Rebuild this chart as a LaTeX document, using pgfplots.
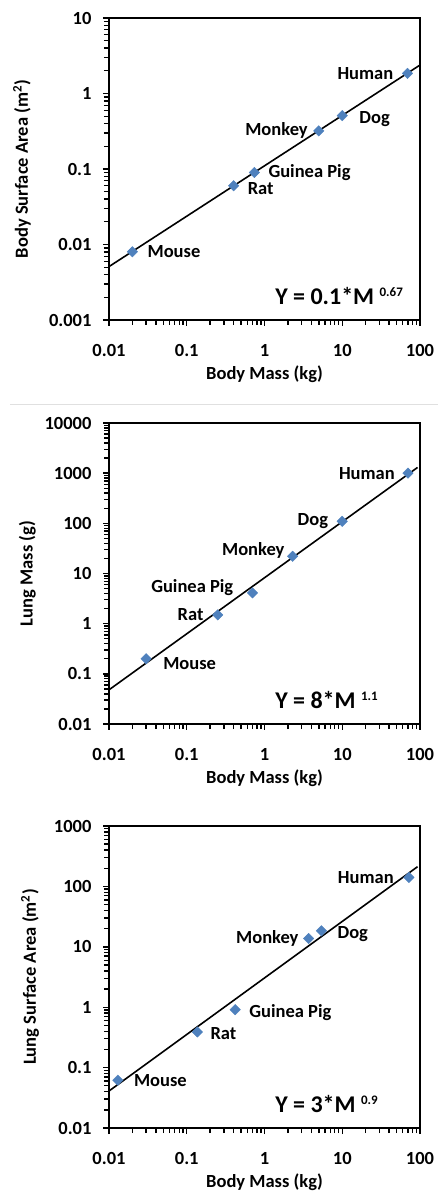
\documentclass[border=0pt]{standalone}
\usepackage{fontspec}
\setmainfont{Carlito}
\usepackage{pgfplots}
\pgfplotsset{compat=1.18}
\definecolor{xlblue}{HTML}{4F81BD}

\newcommand{\lbl}{\fontsize{18.5}{18.5}\selectfont\bfseries}
\pgfplotsset{
  every axis/.append style={
    width=311pt,height=302pt,scale only axis,
    xtick pos=left,ytick pos=left,tick align=outside,
    major tick length=6pt,minor tick length=5pt,
    tick style={black,line width=1.4pt},
    axis line style={line width=1.8pt},
    ticklabel style={font=\lbl},
    xticklabel style={yshift=-15pt},
    yticklabel style={xshift=-8pt},
    label style={font=\lbl},
    xlabel style={at={(axis description cs:0.5,-0.179)},anchor=center},
    clip=false}}
\tikzset{sp/.style={font=\lbl,inner sep=0pt}}

% tick marks along the bottom (x) and left (y) edges
\newcommand{\xticks}[1]{%
  \pgfplotsinvokeforeach{0.01,0.1,1,10,100}{\draw[line width=1.4pt] (axis cs:##1,#1) -- ++(0pt,-6pt);}
  \pgfplotsinvokeforeach{0.02,0.03,0.04,0.05,0.06,0.07,0.08,0.09,0.2,0.3,0.4,0.5,0.6,0.7,0.8,0.9,
    2,3,4,5,6,7,8,9,20,30,40,50,60,70,80,90}{\draw[line width=1.2pt] (axis cs:##1,#1) -- ++(0pt,-4.5pt);}}
\newcommand{\yticks}[2]{%
  \pgfplotsinvokeforeach{#1}{\draw[line width=1.4pt] (axis cs:0.01,##1) -- ++(-6pt,0pt);}
  \pgfplotsinvokeforeach{#2}{\draw[line width=1.2pt] (axis cs:0.01,##1) -- ++(-4.5pt,0pt);}}

\newcommand{\eqn}[2]{\node[anchor=base west,inner sep=0pt,font=\fontsize{24}{24}\selectfont\bfseries]
  at (axis description cs:0.534,0.052) {Y = #1*M \raisebox{7.5pt}{\fontsize{13}{13}\selectfont #2}};}

\begin{document}
\begin{tikzpicture}
\path[use as bounding box] (0,0) rectangle (438pt,-1191pt);
\draw[black!12,line width=0.8pt] (10pt,-404pt) -- (438pt,-404pt);

% body surface area
\begin{loglogaxis}[at={(109pt,-18pt)},anchor=north west,
  xmin=0.01,xmax=100,ymin=0.001,ymax=10,
  xtick={0.01,0.1,1,10,100},xticklabels={0.01,0.1,1,10,100},
  ytick={0.001,0.01,0.1,1,10},yticklabels={0.001,0.01,0.1,1,10},
  xlabel={Body Mass (kg)},
  ylabel={Body Surface Area (m\textsuperscript{2})},
  ylabel style={at={(axis description cs:-0.28,0.5)},anchor=center}]
\xticks{0.001}
\yticks{0.001,0.01,0.1,1,10}{0.002,0.003,0.004,0.005,0.006,0.007,0.008,0.009,
  0.02,0.03,0.04,0.05,0.06,0.07,0.08,0.09,0.2,0.3,0.4,0.5,0.6,0.7,0.8,0.9,2,3,4,5,6,7,8,9}
\addplot[black,line width=1.6pt] coordinates {(0.01,0.0051) (98,2.35)};
\addplot[only marks,mark=square*,mark size=3.7pt,mark options={rotate=45,fill=xlblue,draw=xlblue}]
  coordinates {(0.02,0.008) (0.4,0.06) (0.74,0.09) (5,0.32) (10,0.51) (69,1.85)};
\node[sp,anchor=west,xshift=15pt] at (axis cs:0.02,0.008) {Mouse};
\node[sp,anchor=west,xshift=14pt,yshift=-3pt] at (axis cs:0.4,0.06) {Rat};
\node[sp,anchor=west,xshift=14pt] at (axis cs:0.74,0.09) {Guinea Pig};
\node[sp,anchor=east,xshift=-11pt] at (axis cs:5,0.32) {Monkey};
\node[sp,anchor=west,xshift=17pt,yshift=-3pt] at (axis cs:10,0.51) {Dog};
\node[sp,anchor=east,xshift=-14pt] at (axis cs:69,1.85) {Human};
\eqn{0.1}{0.67}
\end{loglogaxis}

% lung mass
\begin{loglogaxis}[at={(109pt,-423pt)},anchor=north west,height=301pt,
  xmin=0.01,xmax=100,ymin=0.01,ymax=10000,
  xtick={0.01,0.1,1,10,100},xticklabels={0.01,0.1,1,10,100},
  ytick={0.01,0.1,1,10,100,1000,10000},yticklabels={0.01,0.1,1,10,100,1000,10000},
  xlabel={Body Mass (kg)},
  ylabel={Lung Mass (g)},
  ylabel style={at={(axis description cs:-0.263,0.5)},anchor=center}]
\xticks{0.01}
\yticks{0.01,0.1,1,10,100,1000,10000}{0.02,0.03,0.04,0.05,0.06,0.07,0.08,0.09,
  0.2,0.3,0.4,0.5,0.6,0.7,0.8,0.9,2,3,4,5,6,7,8,9,20,30,40,50,60,70,80,90,
  200,300,400,500,600,700,800,900,2000,3000,4000,5000,6000,7000,8000,9000}
\addplot[black,line width=1.6pt] coordinates {(0.01,0.048) (93,1300)};
\addplot[only marks,mark=square*,mark size=3.7pt,mark options={rotate=45,fill=xlblue,draw=xlblue}]
  coordinates {(0.03,0.2) (0.25,1.5) (0.7,4.1) (2.3,22) (10,110) (70,1000)};
\node[sp,anchor=west,xshift=17pt,yshift=-5pt] at (axis cs:0.03,0.2) {Mouse};
\node[sp,anchor=east,xshift=-14pt] at (axis cs:0.25,1.5) {Rat};
\node[sp,anchor=east,xshift=-19pt,yshift=5pt] at (axis cs:0.7,4.1) {Guinea Pig};
\node[sp,anchor=east,xshift=-8pt,yshift=6pt] at (axis cs:2.3,22) {Monkey};
\node[sp,anchor=east,xshift=-14pt] at (axis cs:10,110) {Dog};
\node[sp,anchor=east,xshift=-13pt] at (axis cs:70,1000) {Human};
\eqn{8}{1.1}
\end{loglogaxis}

% lung surface area
\begin{loglogaxis}[at={(109pt,-826pt)},anchor=north west,
  xmin=0.01,xmax=100,ymin=0.01,ymax=1000,
  xtick={0.01,0.1,1,10,100},xticklabels={0.01,0.1,1,10,100},
  ytick={0.01,0.1,1,10,100,1000},yticklabels={0.01,0.1,1,10,100,1000},
  xlabel={Body Mass (kg)},
  ylabel={Lung Surface Area (m\textsuperscript{2})},
  ylabel style={at={(axis description cs:-0.254,0.5)},anchor=center}]
\xticks{0.01}
\yticks{0.01,0.1,1,10,100,1000}{0.02,0.03,0.04,0.05,0.06,0.07,0.08,0.09,
  0.2,0.3,0.4,0.5,0.6,0.7,0.8,0.9,2,3,4,5,6,7,8,9,20,30,40,50,60,70,80,90,
  200,300,400,500,600,700,800,900}
\addplot[black,line width=1.6pt] coordinates {(0.01,0.041) (93,212)};
\addplot[only marks,mark=square*,mark size=3.7pt,mark options={rotate=45,fill=xlblue,draw=xlblue}]
  coordinates {(0.013,0.062) (0.137,0.39) (0.42,0.91) (3.7,13.7) (5.4,18.4) (72,141)};
\node[sp,anchor=west,xshift=16pt] at (axis cs:0.013,0.062) {Mouse};
\node[sp,anchor=west,xshift=13pt,yshift=-2pt] at (axis cs:0.137,0.39) {Rat};
\node[sp,anchor=west,xshift=14pt,yshift=-3pt] at (axis cs:0.42,0.91) {Guinea Pig};
\node[sp,anchor=east,xshift=-10pt] at (axis cs:3.7,13.7) {Monkey};
\node[sp,anchor=west,xshift=16pt,yshift=-3pt] at (axis cs:5.4,18.4) {Dog};
\node[sp,anchor=east,xshift=-15pt] at (axis cs:72,141) {Human};
\eqn{3}{0.9}
\end{loglogaxis}
\end{tikzpicture}
\end{document}
